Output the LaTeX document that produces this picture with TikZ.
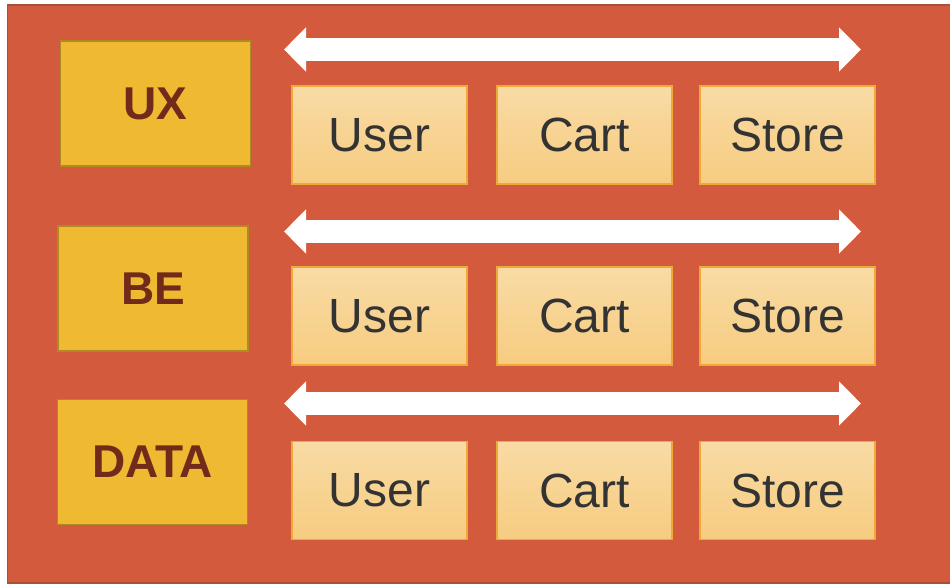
\documentclass[tikz,border=0pt]{standalone}
\usepackage{fontspec}
\setmainfont{Liberation Sans}
\usetikzlibrary{positioning, arrows.meta}

\definecolor{panelred}{HTML}{D35A3D}
\definecolor{panelline}{HTML}{A8503A}
\definecolor{layerfill}{HTML}{EFB932}
\definecolor{layerline}{HTML}{B08A22}
\definecolor{layertext}{HTML}{722A1A}
\definecolor{svctop}{HTML}{F8DBA5}
\definecolor{svcbot}{HTML}{F7CC80}
\definecolor{svcline}{HTML}{EDAA38}
\definecolor{svctext}{HTML}{333333}

\begin{document}
\begin{tikzpicture}[x=1pt,y=-1pt,node distance=29pt]
        \tikzstyle{layer}=[draw=layerline,line width=1.6pt,fill=layerfill,text=layertext,
                           minimum width=190pt,minimum height=125pt,inner sep=0pt,
                           font=\fontsize{46}{50}\selectfont\bfseries]
        \tikzstyle{svc}=[draw=svcline,line width=1.2pt,top color=svctop,bottom color=svcbot,
                         text=svctext,minimum width=175pt,minimum height=98pt,inner sep=0pt,
                         outer sep=0pt,font=\fontsize{48}{52}\selectfont]
        \tikzstyle{flow}=[draw=white,line width=23pt,
                          {Triangle[length=22pt,width=43pt]}-{Triangle[length=22pt,width=43pt]}]

        \useasboundingbox (0,0) rectangle (950,585);
        \fill[white] (0,0) rectangle (950,585);
        \filldraw[fill=panelred,draw=panelline,line width=1.2pt] (7.5,5) rectangle (955,583);

        \node[layer] (ux)   at (155.5,103.5) {UX};
        \node[layer] (be)   at (153,288.5)   {BE};
        \node[layer] (data) at (152.5,462)   {DATA};

        \foreach \r/\y in {1/135,2/316,3/490.5}{
            \node[svc] (user\r) at (379.5,\y) {User};
            \node[svc] (cart\r) [right=30pt of user\r] {Cart};
            \node[svc] (store\r) [right=28pt of cart\r] {Store};
        }

        % arrows over each row
        \coordinate (a1) at (284,49.5);  \coordinate (b1) at (861,49.5);
        \coordinate (a2) at (284,231.5); \coordinate (b2) at (861,231.5);
        \coordinate (a3) at (284,403.5); \coordinate (b3) at (861,403.5);
        \draw[flow] (a1) -- (b1);
        \draw[flow] (a2) -- (b2);
        \draw[flow] (a3) -- (b3);
\end{tikzpicture}
\end{document}
